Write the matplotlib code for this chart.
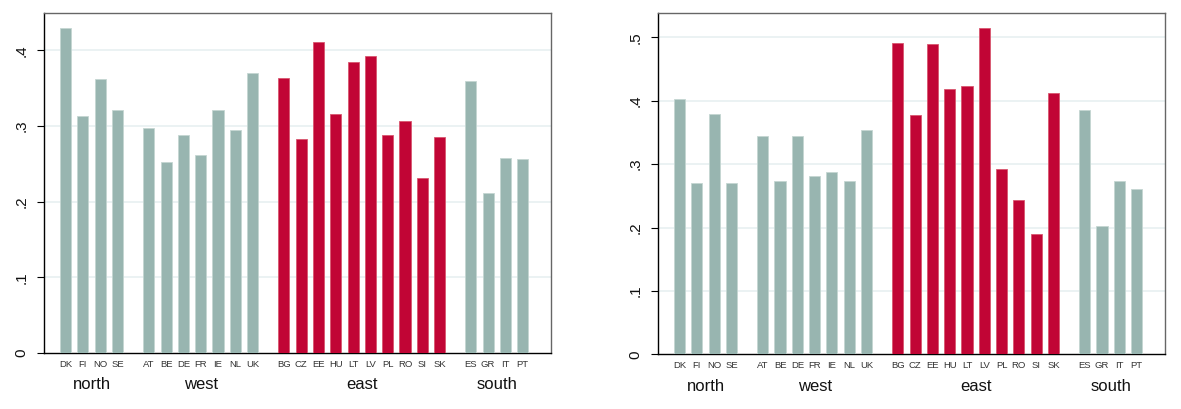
import matplotlib
matplotlib.use('Agg')
import matplotlib.pyplot as plt

plt.rcParams['font.family'] = ['Liberation Sans', 'DejaVu Sans']

# country groups, left-to-right
groups = ['north', 'west', 'east', 'south']
countries = [
    ['DK', 'FI', 'NO', 'SE'],
    ['AT', 'BE', 'DE', 'FR', 'IE', 'NL', 'UK'],
    ['BG', 'CZ', 'EE', 'HU', 'LT', 'LV', 'PL', 'RO', 'SI', 'SK'],
    ['ES', 'GR', 'IT', 'PT'],
]

# left panel values
left_vals = [
    [0.430, 0.313, 0.362, 0.321],
    [0.297, 0.253, 0.288, 0.262, 0.321, 0.295, 0.370],
    [0.363, 0.283, 0.411, 0.316, 0.385, 0.392, 0.288, 0.307, 0.231, 0.286],
    [0.360, 0.212, 0.258, 0.257],
]

# right panel values
right_vals = [
    [0.402, 0.270, 0.379, 0.270],
    [0.344, 0.274, 0.345, 0.282, 0.287, 0.273, 0.353],
    [0.491, 0.378, 0.490, 0.419, 0.423, 0.515, 0.292, 0.243, 0.190, 0.412],
    [0.385, 0.202, 0.274, 0.260],
]

GREY = '#98b5b0'
GREY_EDGE = '#c4d6d2'
RED = '#c10535'
RED_EDGE = '#d9566f'
GRID = '#e8f0f1'
GROUP_GAP = 0.8


def draw_panel(ax, vals, ymax, yticks):
    xs_all, labels_all = [], []
    i = 0
    for g, (names, v) in enumerate(zip(countries, vals)):
        xs = [i + k + GROUP_GAP * g for k in range(len(names))]
        i += len(names)
        east = groups[g] == 'east'
        ax.bar(xs, v, width=0.64,
               color=RED if east else GREY,
               edgecolor=RED_EDGE if east else GREY_EDGE,
               linewidth=0.6, zorder=3)
        xs_all += xs
        labels_all += names
        ax.text((xs[0] + xs[-1]) / 2, -0.094, groups[g],
                transform=ax.get_xaxis_transform(), ha='center', va='center',
                fontsize=12, color='#111111')

    ax.set_xlim(-1.245, xs_all[-1] + 1.64)
    ax.set_ylim(0, ymax)
    ax.set_xticks(xs_all)
    ax.set_xticklabels(labels_all, fontsize=6.8, color='#333333')
    ax.tick_params(axis='x', length=0, pad=5)

    ax.set_yticks(yticks)
    ax.set_yticklabels(['0' if t == 0 else ('%.1f' % t)[1:] for t in yticks],
                       rotation=90, va='center', fontsize=11, color='#111111')
    ax.tick_params(axis='y', length=5, width=0.8, color='black', pad=6)
    for t in yticks[1:]:
        ax.axhline(t, color=GRID, linewidth=1.2, zorder=1)

    for side in ('top', 'right'):
        ax.spines[side].set_color('#666666')
        ax.spines[side].set_linewidth(1.0)
    for side in ('left', 'bottom'):
        ax.spines[side].set_color('black')
        ax.spines[side].set_linewidth(1.0)


fig = plt.figure(figsize=(11.81, 4.09), dpi=100, facecolor='white')

ax1 = fig.add_axes([0.0373, 0.1369, 0.4294, 0.8306])
draw_panel(ax1, left_vals, 0.449, [0, 0.1, 0.2, 0.3, 0.4])

ax2 = fig.add_axes([0.5572, 0.1337, 0.4293, 0.8333])
draw_panel(ax2, right_vals, 0.5375, [0, 0.1, 0.2, 0.3, 0.4, 0.5])

fig.savefig('out.png', dpi=100, facecolor='white')
